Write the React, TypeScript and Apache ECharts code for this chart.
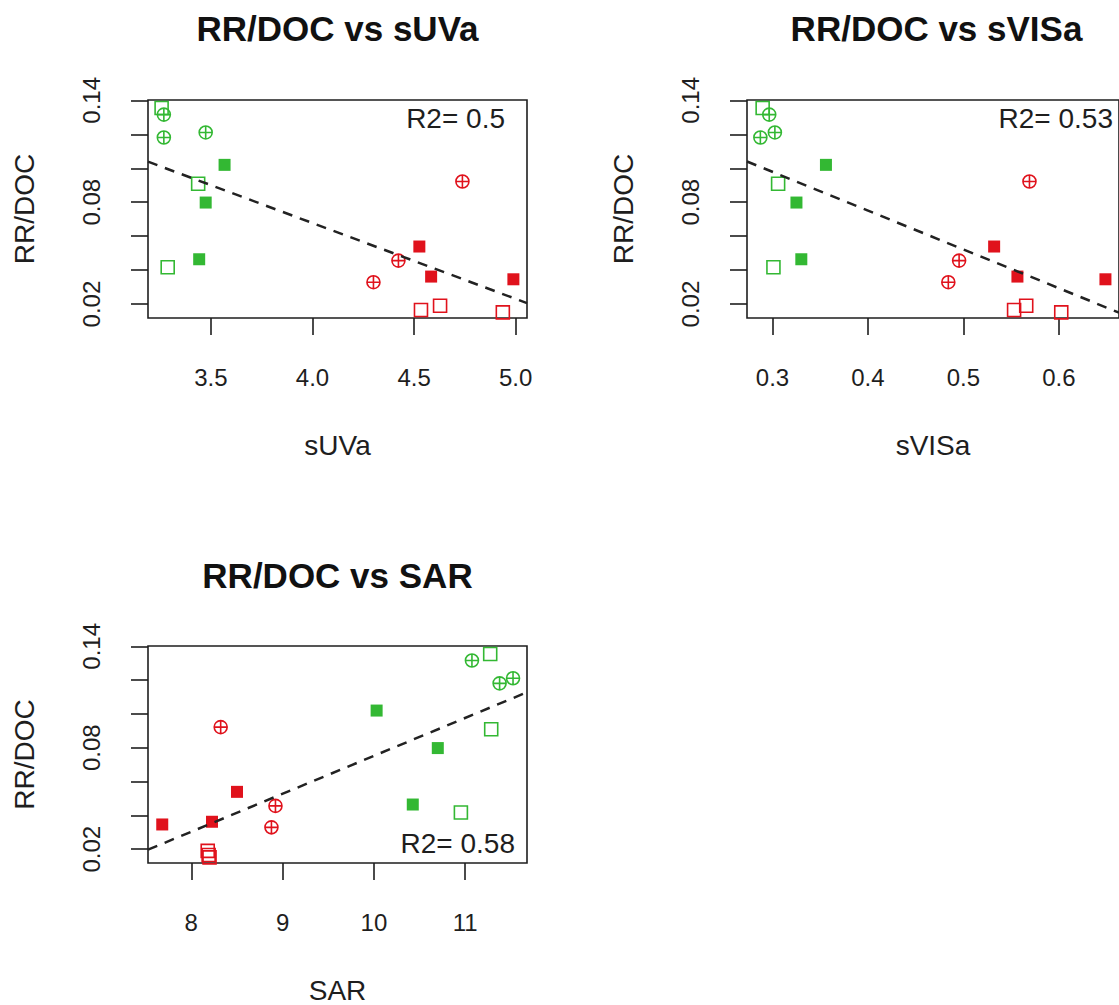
import React, { useEffect, useRef } from "react";
import * as echarts from "echarts";

// ---- data ----
const rrdoc = [0.1355, 0.1316, 0.1181, 0.1211, 0.102, 0.0909, 0.0798, 0.0464, 0.0417, 0.0922, 0.0539, 0.0456, 0.0362, 0.0329, 0.0346, 0.0165, 0.019, 0.0151];
const groups = ["gOpen", "gCircle", "gCircle", "gCircle", "gFilled", "gOpen", "gFilled", "gFilled", "gOpen", "rCircle", "rFilled", "rCircle", "rFilled", "rCircle", "rFilled", "rOpen", "rOpen", "rOpen"];
const sUVa = [3.257, 3.268, 3.268, 3.474, 3.567, 3.437, 3.474, 3.442, 3.287, 4.738, 4.526, 4.423, 4.584, 4.3, 4.989, 4.534, 4.628, 4.937];
const sVISa = [0.2897, 0.2966, 0.2873, 0.3025, 0.356, 0.3059, 0.3251, 0.3302, 0.301, 0.5692, 0.5322, 0.4955, 0.5566, 0.4842, 0.6488, 0.5531, 0.5658, 0.6025];
const SAR = [11.274, 11.074, 11.377, 11.524, 10.03, 11.285, 10.7, 10.426, 10.953, 8.322, 8.501, 8.922, 8.227, 8.878, 7.682, 8.19, 8.18, 8.2];

const yTicks = [0.02, 0.04, 0.06, 0.08, 0.1, 0.12, 0.14];
const yTickLabels = [0.02, 0.08, 0.14];
const yLimits = [0.0118, 0.1402];
const sUVaTicks = [3.5, 4.0, 4.5, 5.0];
const sVISaTicks = [0.3, 0.4, 0.5, 0.6];
const SARTicks = [8, 9, 10, 11];
const sUVaLimits = [3.19, 5.056];
const sVISaLimits = [0.2733, 0.663];
const SARLimits = [7.526, 11.677];
const titles = ["RR/DOC vs sUVa", "RR/DOC vs sVISa", "RR/DOC vs SAR"];
const xNames = ["sUVa", "sVISa", "SAR"];
const r2Labels = ["R2= 0.5", "R2= 0.53", "R2= 0.58"];

const GREEN = "#33b833";
const RED = "#e0121c";
const INK = "#1e1e1e";
const FONT = "'Liberation Sans', Arial, Helvetica, sans-serif";
const CROSS_CIRCLE = "path://M0,10A10,10,0,1,1,20,10A10,10,0,1,1,0,10ZM10,0L10,20M0,10L20,10";

const groupStyle: Record<string, any> = {
  gFilled: { symbol: "rect", size: 12, color: GREEN, filled: true },
  gOpen: { symbol: "rect", size: 13, color: GREEN, filled: false },
  gCircle: { symbol: CROSS_CIRCLE, size: 13, color: GREEN, filled: false },
  rFilled: { symbol: "rect", size: 12, color: RED, filled: true },
  rOpen: { symbol: "rect", size: 13, color: RED, filled: false },
  rCircle: { symbol: CROSS_CIRCLE, size: 13, color: RED, filled: false },
};
const groupOrder = ["gOpen", "gCircle", "gFilled", "rCircle", "rFilled", "rOpen"];

const panels = [
  { xs: sUVa, ticks: sUVaTicks, lim: sUVaLimits, fmt: (v: number) => v.toFixed(1), grid: { left: 148, top: 100, width: 379, height: 218 }, titleY: 28, r2: { x: 505, y: 118 } },
  { xs: sVISa, ticks: sVISaTicks, lim: sVISaLimits, fmt: (v: number) => v.toFixed(1), grid: { left: 747, top: 100, width: 379, height: 218 }, titleY: 28, r2: { x: 1113, y: 118 } },
  { xs: SAR, ticks: SARTicks, lim: SARLimits, fmt: (v: number) => String(Math.round(v)), grid: { left: 148, top: 646, width: 379, height: 219 }, titleY: 575, r2: { x: 515, y: 843 } },
];

function fit(xs: number[], ys: number[]) {
  const n = xs.length;
  const mx = xs.reduce((a, b) => a + b, 0) / n;
  const my = ys.reduce((a, b) => a + b, 0) / n;
  let sxy = 0, sxx = 0;
  for (let i = 0; i < n; i++) {
    sxy += (xs[i] - mx) * (ys[i] - my);
    sxx += (xs[i] - mx) * (xs[i] - mx);
  }
  const b = sxy / sxx;
  return { a: my - b * mx, b };
}

function buildOption() {
  const grid: any[] = [];
  const xAxis: any[] = [];
  const yAxis: any[] = [];
  const series: any[] = [];
  const graphic: any[] = [];

  panels.forEach((p, i) => {
    grid.push({ ...p.grid, show: true, borderColor: INK, borderWidth: 1.6, backgroundColor: "transparent" });
    xAxis.push({
      gridIndex: i, type: "value", min: p.lim[0], max: p.lim[1],
      axisLine: { show: false }, splitLine: { show: false },
      axisTick: { show: true, customValues: p.ticks, length: 17, lineStyle: { color: INK, width: 1.6 } },
      axisLabel: { customValues: p.ticks, formatter: p.fmt, fontSize: 24, color: INK, margin: 47, fontFamily: FONT },
      name: xNames[i], nameLocation: "middle", nameGap: 113,
      nameTextStyle: { fontSize: 28, color: INK, fontFamily: FONT },
    });
    yAxis.push({
      gridIndex: i, type: "value", min: yLimits[0], max: yLimits[1],
      axisLine: { show: false }, splitLine: { show: false },
      axisTick: { show: true, customValues: yTicks, length: 17, lineStyle: { color: INK, width: 1.6 } },
      axisLabel: { customValues: yTickLabels, formatter: (v: number) => v.toFixed(2), rotate: 90, fontSize: 24, color: INK, margin: 45, fontFamily: FONT },
      name: "RR/DOC", nameLocation: "middle", nameGap: 110,
      nameTextStyle: { fontSize: 28, color: INK, fontFamily: FONT },
    });

    groupOrder.forEach((g) => {
      const st = groupStyle[g];
      const data: number[][] = [];
      p.xs.forEach((x, k) => { if (groups[k] === g) data.push([x, rrdoc[k]]); });
      series.push({
        type: "scatter", xAxisIndex: i, yAxisIndex: i, name: g, data,
        symbol: st.symbol, symbolSize: st.size,
        itemStyle: st.filled
          ? { color: st.color, borderWidth: 0, opacity: 1 }
          : { color: "transparent", borderColor: st.color, borderWidth: 1.6, opacity: 1 },
        emphasis: { disabled: true },
      });
    });

    const f = fit(p.xs, rrdoc);
    series.push({
      type: "line", xAxisIndex: i, yAxisIndex: i, name: "fit",
      data: [[p.lim[0], f.a + f.b * p.lim[0]], [p.lim[1], f.a + f.b * p.lim[1]]],
      symbol: "none", clip: true,
      lineStyle: { type: [10, 8], width: 2.5, color: "#222222" },
      emphasis: { disabled: true },
    });

    graphic.push({
      type: "text", x: p.grid.left + p.grid.width / 2, y: p.titleY,
      style: { text: titles[i], textAlign: "center", textVerticalAlign: "middle", fontSize: 35, fontWeight: "bold", fill: "#111", fontFamily: FONT },
    });
    graphic.push({
      type: "text", x: p.r2.x, y: p.r2.y,
      style: { text: r2Labels[i], textAlign: "right", textVerticalAlign: "middle", fontSize: 28, fill: INK, fontFamily: FONT },
    });
  });

  return {
    animation: false,
    backgroundColor: "#ffffff",
    textStyle: { fontFamily: FONT },
    grid, xAxis, yAxis, series, graphic,
  };
}

export default function App() {
  const ref = useRef<HTMLDivElement>(null);
  useEffect(() => {
    document.body.style.margin = "0";
    const chart = echarts.init(ref.current!, null, { renderer: "svg" });
    chart.setOption(buildOption() as any);
    return () => chart.dispose();
  }, []);
  return <div ref={ref} style={{ width: 1119, height: 1005 }} />;
}
